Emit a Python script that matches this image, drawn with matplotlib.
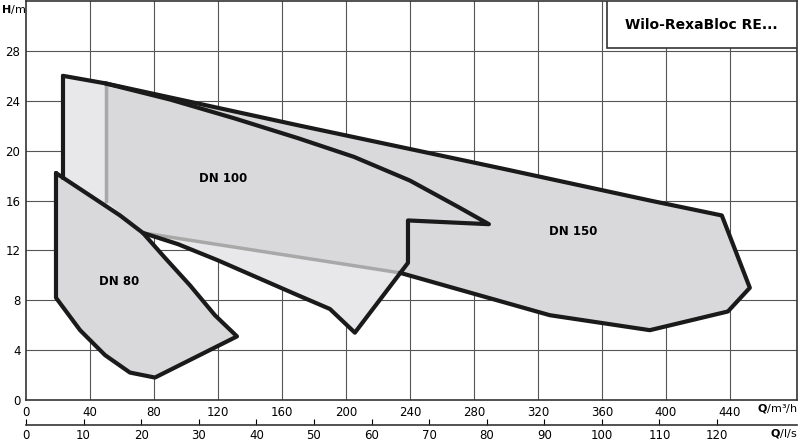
import matplotlib
matplotlib.use("Agg")
import matplotlib.pyplot as plt
from matplotlib.patches import Polygon, Rectangle

q_ticks = list(range(0, 441, 40))
h_ticks = list(range(0, 29, 4))
ls_ticks = list(range(0, 121, 10))

dn100_top_q = [23.1, 49.4, 90, 130, 170, 205, 240, 270, 289.4, 238.8, 238.8, 205.6]
dn100_top_h = [26.0, 25.4, 24.1, 22.6, 21.0, 19.5, 17.6, 15.5, 14.1, 14.4, 11.0, 5.4]
dn100_low_q = [190, 170, 145, 120, 95, 73.1]
dn100_low_h = [7.3, 8.4, 9.8, 11.2, 12.5, 13.4]
dn150_q = [49.4, 171.3, 296.3, 390, 435, 452.5, 438.8, 390, 327.5, 233.8]
dn150_h = [25.4, 22.0, 18.6, 16.0, 14.8, 9.0, 7.1, 5.6, 6.8, 10.2]
dn80_q = [18.75, 40, 58.8, 73.1, 86.9, 102.5, 118.1, 131.9, 80.6, 65, 49.4, 33.8, 18.75]
dn80_h = [18.2, 16.4, 14.8, 13.4, 11.4, 9.2, 6.8, 5.1, 1.8, 2.2, 3.6, 5.6, 8.2]
gray_vert_q = [50, 50]
gray_vert_h = [25.4, 16.0]
left_q = [23.1, 23.1]
left_h = [26.0, 17.8]

fig = plt.figure(figsize=(8, 4.45), dpi=100)
ax = fig.add_axes([26/800, 45/445, 771/800, 399/445])
ax.set_xlim(0, 482)
ax.set_ylim(0, 32)
for q in q_ticks[1:]:
    ax.axvline(q, color='#555', lw=0.8, zorder=0)
for h in h_ticks[1:]:
    ax.axhline(h, color='#555', lw=0.8, zorder=0)

black = dict(color='#1a1a1a', lw=3, solid_joinstyle='round', solid_capstyle='round', zorder=5)
p100 = list(zip(left_q[::-1], left_h[::-1])) + list(zip(dn100_top_q, dn100_top_h)) + list(zip(dn100_low_q, dn100_low_h)) + \
    [(dn80_q[1], dn80_h[1]), (dn80_q[0], dn80_h[0])]
ax.add_patch(Polygon(p100, closed=True, fc='#e8e8ea', ec='none', zorder=1))
p150 = list(zip(dn150_q, dn150_h)) + [(73.1, 13.4), (50, 16.0)]
ax.add_patch(Polygon(p150, closed=True, fc='#d9d9db', ec='none', zorder=2))
ax.add_patch(Polygon(list(zip(dn80_q, dn80_h)), closed=True, fc='#d9d9db', ec='none', zorder=2))

ax.plot(gray_vert_q, gray_vert_h, color='#a8a8a8', lw=2.5, zorder=3)
ax.plot([233.8, 73.1], [10.2, 13.4], color='#a8a8a8', lw=2.5, zorder=3)
ax.plot(left_q, left_h, **black)
ax.plot(dn100_top_q + dn100_low_q, dn100_top_h + dn100_low_h, **black)
ax.plot(dn150_q, dn150_h, **black)
ax.plot(dn80_q + [dn80_q[0]], dn80_h + [dn80_h[0]], **black)

ax.text(123, 17.8, 'DN 100', fontsize=8.5, fontweight='bold', ha='center', va='center', zorder=6)
ax.text(342, 13.5, 'DN 150', fontsize=8.5, fontweight='bold', ha='center', va='center', zorder=6)
ax.text(58, 9.5, 'DN 80', fontsize=8.5, fontweight='bold', ha='center', va='center', zorder=6)

ax.set_xticks(q_ticks)
ax.set_yticks(h_ticks)
ax.tick_params(length=0, labelsize=8.5, pad=4)
for s in ax.spines.values():
    s.set_color('#333'); s.set_linewidth(1.2)
fig.text(1/800, 1 - 3/445, r'$\bf{H}$/m', ha='left', va='top', fontsize=8)
fig.text(797/800, 1 - 402/445, r'$\bf{Q}$/m³/h', ha='right', va='top', fontsize=8)

ax.add_patch(Rectangle((363, 28.2), 119, 3.8, fc='white', ec='#333', lw=1.2, zorder=7))
ax.text(422, 30.1, 'Wilo-RexaBloc RE...', fontsize=10, fontweight='bold', ha='center', va='center', zorder=8)

ax2 = fig.add_axes([26/800, 20/445, 771/800, 0.001])
ax2.set_xlim(0, 482/3.6)
ax2.set_yticks([])
for k in ['top', 'left', 'right']:
    ax2.spines[k].set_visible(False)
ax2.spines['bottom'].set_color('#333'); ax2.spines['bottom'].set_linewidth(1.2)
ax2.set_xticks(ls_ticks)
ax2.tick_params(direction='in', length=4, labelsize=8.5, pad=3)
fig.text(797/800, 1 - 427/445, r'$\bf{Q}$/l/s', ha='right', va='top', fontsize=8)

fig.savefig('out.png', dpi=100)
